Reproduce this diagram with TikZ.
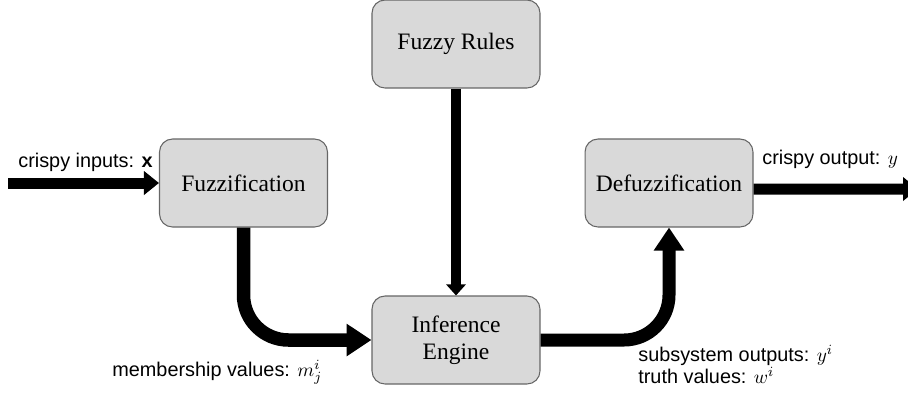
\documentclass[tikz,border=0pt]{standalone}
\usepackage{fontspec}
\setmainfont{Liberation Serif}
\newfontfamily\labelfont{Liberation Sans}
\usetikzlibrary{arrows.meta}
\tikzstyle{line} = [draw, -{Triangle[length=0.3cm,width=0.46cm]}, line width=0.22cm]
\tikzstyle{fatline} = [draw, -{Triangle[length=0.5cm,width=0.62cm]}, line width=0.27cm, rounded corners=0.9cm]

\begin{document}
\begin{tikzpicture}[x=0.02cm, y=-0.02cm, block/.style={draw=black!60, line width=0.6pt, fill=black!15, rounded corners=0.26cm, minimum width=3.36cm, minimum height=1.76cm, align=center, font=\fontsize{13.4}{15.5}\selectfont}, lbl/.style={font=\labelfont\fontsize{11.3}{13.5}\selectfont, inner sep=0pt, anchor=base west}]

    \useasboundingbox (0,0) rectangle (908,397);

    % the four stages
    \node[block] (rules) at (456,44) {Fuzzy Rules};
    \node[block] (fuzz) at (243.5,183) {Fuzzification};
    \node[block] (infer) at (456,340) {Inference\\Engine};
    \node[block] (defuzz) at (669,183) {Defuzzification};

    \coordinate (xin) at (8,183);
    \coordinate (yout) at (918,189);

    % signal flow
    \draw[line] (xin) -- (fuzz.west);
    \draw[line] ([yshift=-0.12cm]defuzz.east) -- (yout);
    \draw[draw, -{Triangle[length=0.22cm,width=0.38cm]}, line width=0.19cm] (rules) -- (infer);
    \draw[fatline] (fuzz.south) |- (infer.west);
    \draw[fatline, -{Triangle[length=0.46cm,width=0.58cm]}, line width=0.26cm] (infer.east) -| (defuzz.south);

    % labels
    \node[lbl] (inlabel) at (18,167) {crispy inputs: \textbf{x}};
    \node[lbl] (outlabel) at (762,164) {crispy output: $y$};
    \node[lbl] (memlabel) at (112,376) {membership values: $m_j^i$};
    \node[lbl] (sublabel) at (638,361) {subsystem outputs: $y^i$};
    \node[lbl] (truthlabel) at (638,383) {truth values: $w^i$};

\end{tikzpicture}
\end{document}
